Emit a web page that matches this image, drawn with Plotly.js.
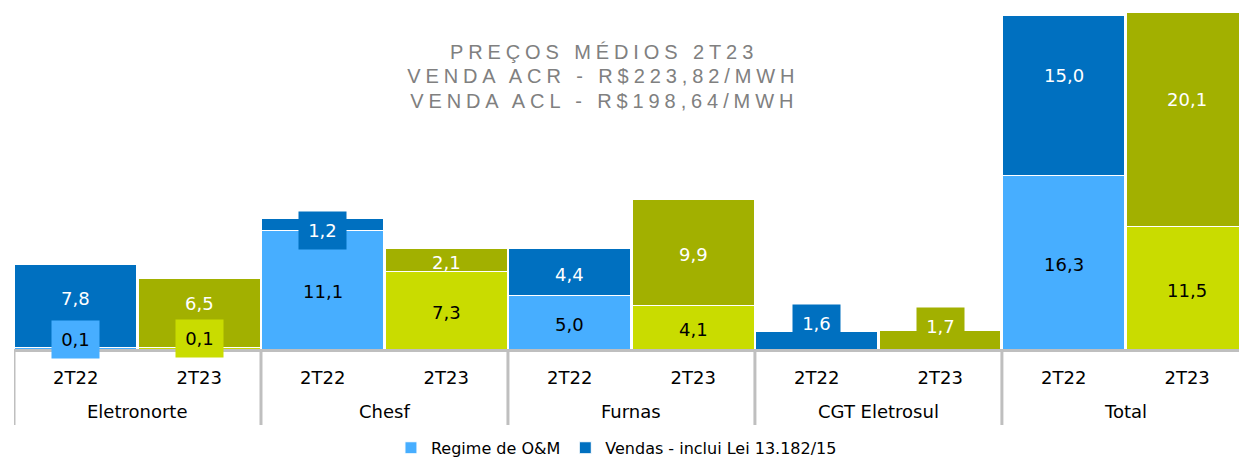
<!DOCTYPE html>
<html>
<head>
<meta charset="utf-8">
<script src="https://cdn.plot.ly/plotly-3.0.1.min.js"></script>
<style>
  html, body { margin: 0; padding: 0; background: #fff; }
  #chart { width: 1239px; height: 458px; }
</style>
</head>
<body>
<div id="chart"></div>
<script>
// ---- data ----
var groups  = ['Eletronorte', 'Eletronorte', 'Chesf', 'Chesf', 'Furnas', 'Furnas', 'CGT Eletrosul', 'CGT Eletrosul', 'Total', 'Total'];
var periods = ['2T22', '2T23', '2T22', '2T23', '2T22', '2T23', '2T22', '2T23', '2T22', '2T23'];
var regimeOM = [0.1, 0.1, 11.1, 7.3, 5.0, 4.1, 0, 0, 16.3, 11.5];
var vendas   = [7.8, 6.5, 1.2, 2.1, 4.4, 9.9, 1.6, 1.7, 15.0, 20.1];
var seriesNames = ['Regime de O&M', 'Vendas - inclui Lei 13.182/15'];
var titleLines = ['PREÇOS MÉDIOS 2T23', 'VENDA ACR - R$223,82/MWH', 'VENDA ACL - R$198,64/MWH'];

// ---- styles ----
var omColors     = { '2T22': '#47AEFF', '2T23': '#C9DC00' };
var vendasColors = { '2T22': '#0070C0', '2T23': '#A2B000' };
var omBoxed     = [true, true, false, false, false, false, false, false, false, false];
var vendasBoxed = [false, false, true, false, false, false, true, true, false, false];
var omShift     = [9, 10, -2, -2, -2, -2, 0, 0, -2, -3];
var vendasShift = [8, 10, -6, -2, -2, -2, 17, 13, 20, 20];
var FONT = 'DejaVu Sans, Verdana, sans-serif';
var GRID = '#bfbfbf';

function fmt(v) { return v.toFixed(1).replace('.', ','); }

var idx = groups.map(function (g, i) { return i; });

var traces = [
  {
    type: 'bar', name: seriesNames[0],
    x: idx, y: regimeOM,
    marker: { color: periods.map(function (p) { return omColors[p]; }), line: { color: '#ffffff', width: 1 } },
    hoverinfo: 'skip'
  },
  {
    type: 'bar', name: seriesNames[1],
    x: idx, y: vendas,
    marker: { color: periods.map(function (p) { return vendasColors[p]; }), line: { color: '#ffffff', width: 1 } },
    hoverinfo: 'skip'
  }
];

var annotations = [];
for (var i = 0; i < groups.length; i++) {
  if (regimeOM[i] > 0) {
    var a = {
      x: i, y: regimeOM[i] / 2, xref: 'x', yref: 'y',
      text: fmt(regimeOM[i]), showarrow: false, yshift: omShift[i],
      font: { family: FONT, size: 18, color: '#000000' }
    };
    if (omBoxed[i]) { a.bgcolor = omColors[periods[i]]; a.width = 47; a.height = 37; a.borderpad = 0; }
    annotations.push(a);
  }
  if (vendas[i] > 0) {
    var b = {
      x: i, y: regimeOM[i] + vendas[i] / 2, xref: 'x', yref: 'y',
      text: fmt(vendas[i]), showarrow: false, yshift: vendasShift[i],
      font: { family: FONT, size: 18, color: '#ffffff' }
    };
    if (vendasBoxed[i]) { b.bgcolor = vendasColors[periods[i]]; b.width = 47; b.height = 37; b.borderpad = 0; }
    annotations.push(b);
  }
}

// group labels + dividers on the category axis
var shapes = [];
var uniqueGroups = [];
groups.forEach(function (g) { if (uniqueGroups.indexOf(g) < 0) uniqueGroups.push(g); });
uniqueGroups.forEach(function (g) {
  var members = idx.filter(function (i) { return groups[i] === g; });
  var first = members[0], last = members[members.length - 1];
  annotations.push({
    x: (first + last) / 2, xref: 'x', y: -0.1777, yref: 'paper', yanchor: 'middle',
    text: g, showarrow: false, font: { family: FONT, size: 18, color: '#000000' }
  });
  shapes.push({ type: 'line', xref: 'x', yref: 'paper', x0: first - 0.5, x1: first - 0.5, y0: 0, y1: -0.2178,
    line: { color: GRID, width: 3 } });
  if (g === uniqueGroups[uniqueGroups.length - 1]) {
    shapes.push({ type: 'line', xref: 'x', yref: 'paper', x0: last + 0.5, x1: last + 0.5, y0: 0, y1: -0.2178,
      line: { color: GRID, width: 3 } });
  }
});

var titleY = [0.851, 0.782, 0.711];
var titleStart = annotations.length;
titleLines.forEach(function (t, k) {
  annotations.push({
    xref: 'paper', yref: 'paper', x: 0.4816, y: titleY[k], xanchor: 'center', yanchor: 'middle',
    text: t, showarrow: false,
    font: { family: 'Liberation Sans, Arial, sans-serif', size: 20, color: '#808080' }
  });
});

var layout = {
  width: 1239, height: 458,
  margin: { l: 14, r: 0, t: 0, b: 109, pad: 0, autoexpand: false },
  paper_bgcolor: '#ffffff', plot_bgcolor: '#ffffff',
  barmode: 'stack', bargap: 0.015,
  showlegend: true,
  legend: {
    orientation: 'h', x: 0.4918, xanchor: 'center', y: -0.2345, yanchor: 'top',
    font: { family: FONT, size: 16, color: '#000000' }, itemwidth: 30, traceorder: 'normal'
  },
  xaxis: {
    type: 'linear', range: [-0.5, 9.42],
    tickmode: 'array', tickvals: idx, ticktext: periods,
    showline: true, linecolor: GRID, linewidth: 3,
    ticks: '', showgrid: false, zeroline: false, ticklabelstandoff: 10,
    tickfont: { family: FONT, size: 18, color: '#000000' },
    fixedrange: true
  },
  yaxis: { visible: false, range: [0, 32.77], fixedrange: true },
  annotations: annotations,
  shapes: shapes,
  font: { family: FONT }
};

Plotly.newPlot('chart', traces, layout, { displayModeBar: false, staticPlot: true }).then(function (gd) {
  var nodes = gd.querySelectorAll('g.annotation');
  nodes.forEach(function (g) {
    var k = +g.getAttribute('data-index');
    if (k >= titleStart) {
      var t = g.querySelector('text.annotation-text');
      if (t) t.style.letterSpacing = '4.9px';
    }
  });
});
</script>
</body>
</html>
